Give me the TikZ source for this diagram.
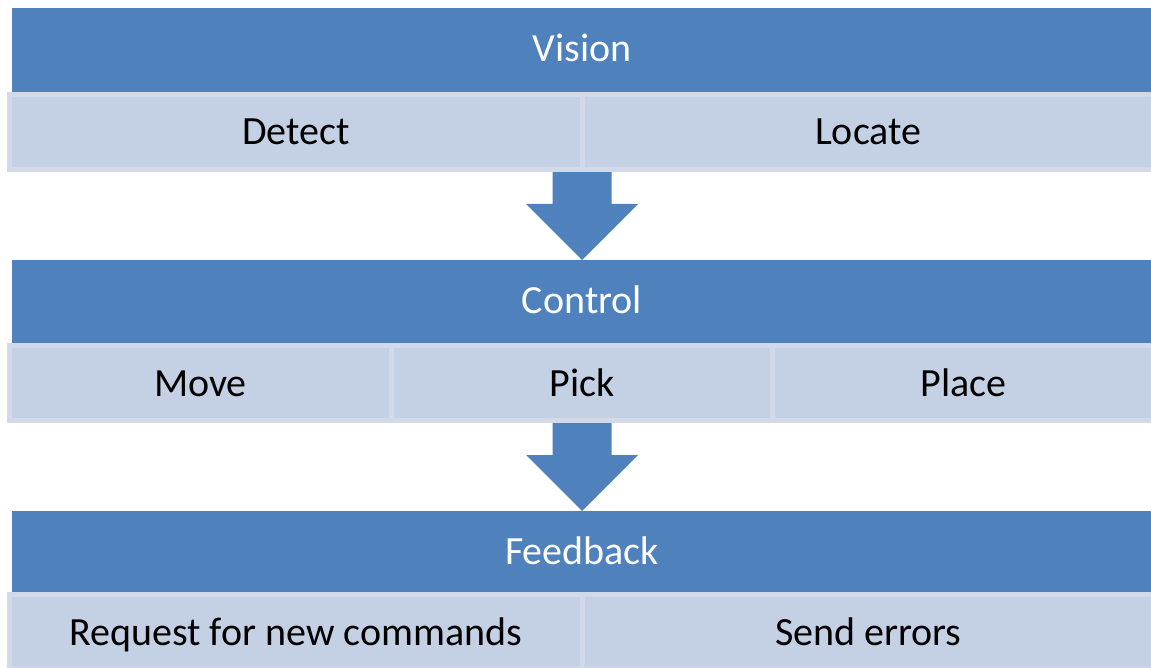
\documentclass[tikz,border=0pt]{standalone}
\usepackage{fontspec}
\setmainfont{Carlito}
\usetikzlibrary{calc,backgrounds}
\definecolor{barblue}{HTML}{4F81BD}
\definecolor{cellfill}{HTML}{C4D0E3}
\definecolor{cellrim}{HTML}{D2DAEA}
\tikzset{
  label font/.style={font=\fontsize{40}{40}\selectfont},
  bar/.style={fill=barblue, draw=none, minimum width=1140pt, inner sep=0pt,
    outer sep=0pt, anchor=north west, text=white, label font,
    text height=28pt, text depth=4pt},
  cell/.style={fill=cellfill, draw=cellrim, line width=5pt, minimum height=75pt,
    inner sep=0pt, outer sep=0pt, anchor=north west, text=black, label font,
    text height=30pt, text depth=4pt},
  flow/.style={fill=barblue, draw=none}
}
% broad block arrow from a row of cells down to the next bar
\newcommand\blockarrow[2]{%
  \fill[flow] let \p1=(#1), \p2=(#2) in
    (\x1-29.5pt,\y1) -- (\x1-29.5pt,\y2+56pt) -- (\x1-56pt,\y2+56pt) --
    (\x2,\y2) -- (\x1+56pt,\y2+56pt) -- (\x1+29.5pt,\y2+56pt) --
    (\x1+29.5pt,\y1) -- cycle;}
\begin{document}
\begin{tikzpicture}[x=1pt,y=-1pt]
\useasboundingbox (0,0) rectangle (1151,668);

% Vision
\node[bar, minimum height=84pt] (vision) at (12,8) {Vision};
\node[cell, minimum width=572.5pt] (detect) at (9.5,94.5) {Detect};
\node[cell, minimum width=572.5pt] (locate) at (582,94.5) {Locate};

% Control
\node[bar, minimum height=83pt] (control) at (12,260) {Control};
\node[cell, minimum width=381.7pt] (move) at (9.5,345.5) {Move};
\node[cell, minimum width=381.7pt] (pick) at (391.2,345.5) {Pick};
\node[cell, minimum width=381.7pt] (place) at (772.9,345.5) {Place};

% Feedback
\node[bar, minimum height=82pt] (feedback) at (12,511) {Feedback};
\node[cell, minimum width=572.5pt] (request) at (9.5,594.5) {Request for new commands};
\node[cell, minimum width=572.5pt] (errors) at (582,594.5) {Send errors};

\coordinate (out1) at (detect.south east);
\coordinate (out2) at (pick.south);

\begin{scope}[on background layer]
  \blockarrow{out1}{control.north}
  \blockarrow{out2}{feedback.north}
\end{scope}
\end{tikzpicture}
\end{document}
